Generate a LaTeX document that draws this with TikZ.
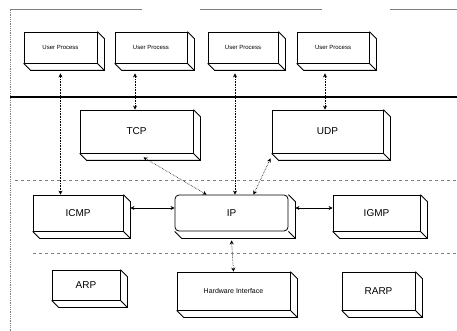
\documentclass[tikz,border=0pt]{standalone}
\usepackage{fontspec}
\setmainfont{Liberation Sans}
\usetikzlibrary{arrows.meta,calc}
\begin{document}
\begin{tikzpicture}[x=1pt,y=-1pt,
  box/.style={draw, line width=0.8pt, fill=white, inner sep=0pt, font=\fontsize{6}{7}\selectfont},
  big/.style={font=\fontsize{10}{12}\selectfont},
  dlink/.style={densely dotted, line width=0.6pt, {Stealth[length=4pt,width=4pt]}-{Stealth[length=4pt,width=4pt]}},
  slink/.style={line width=0.6pt, {Stealth[length=4pt,width=4pt]}-{Stealth[length=4pt,width=4pt]}},
  rule/.style={gray, line width=1pt},
  dashrule/.style={gray, dashed, line width=0.6pt}]
\useasboundingbox (0,0) rectangle (457,331);
% frame lines
\draw[rule] (10,10) -- (142,10) (200,10) -- (322,10) (390,10) -- (457,10);
\draw[gray, densely dotted, line width=0.8pt] (10,10) -- (10,331);
\draw[line width=1.2pt] (10,97) -- (457,97);
\draw[dashrule] (15,180) -- (457,180);
\draw[dashrule] (33,253) -- (457,253);
% boxes
\node[box, minimum width=73pt, minimum height=31pt] (up1) at (60.5,47.5) {User Process};
\node[box, minimum width=72pt, minimum height=31pt] (up2) at (151,47.5) {User Process};
\node[box, minimum width=70pt, minimum height=31pt] (up3) at (243,47.5) {User Process};
\node[box, minimum width=72pt, minimum height=31pt] (up4) at (333,47.5) {User Process};
\node[box, big, minimum width=113pt, minimum height=43pt] (tcp) at (136.5,131.5) {TCP};
\node[box, big, minimum width=111pt, minimum height=43pt] (udp) at (327.5,131.5) {UDP};
\node[box, big, minimum width=90pt, minimum height=36pt] (icmp) at (78,213) {ICMP};
\node[box, big, rounded corners=4pt, minimum width=113pt, minimum height=36pt] (ip) at (231.5,213) {IP};
\node[box, big, minimum width=87pt, minimum height=36pt] (igmp) at (376.5,213) {IGMP};
\node[box, big, minimum width=68pt, minimum height=30pt] (arp) at (86,285) {ARP};
\node[box, minimum width=113pt, minimum height=38pt, font=\fontsize{7}{8}\selectfont] (hw) at (233.5,291) {Hardware Interface};
\node[box, big, minimum width=73pt, minimum height=38pt] (rarp) at (378.5,291) {RARP};
% 3D depth
\foreach \n in {up1,up2,up3,up4,tcp,udp,icmp,ip,igmp,arp,hw,rarp}{
  \draw[line width=0.8pt] (\n.north east) -- ++(7,7) -- ($(\n.south east)+(7,7)$) -- ($(\n.south west)+(7,7)$) -- (\n.south west);
  \draw[line width=0.8pt] (\n.south east) -- ++(7,7);
}
% connectors
\draw[dlink] ([yshift=-10pt]up1.south) -- (up1.south |- icmp.north);
\draw[dlink] ([xshift=-16pt,yshift=-10pt]up2.south) -- ([xshift=-16pt]up2.south |- tcp.north);
\draw[dlink] ([xshift=-8pt,yshift=-10pt]up3.south) -- ([xshift=-8pt]up3.south |- ip.north);
\draw[dlink] ([xshift=-8pt,yshift=-10pt]up4.south) -- ([xshift=-8pt]up4.south |- udp.north);
\draw[dlink] ([xshift=7pt,yshift=-4pt]tcp.south) -- ([xshift=-25pt]ip.north);
\draw[dlink] ([xshift=-57pt,yshift=-5pt]udp.south) -- ([xshift=22pt]ip.north);
\draw[slink] ([xshift=7pt,yshift=5pt]icmp.east) -- ([yshift=5pt]ip.west);
\draw[slink] ([xshift=7pt,yshift=5pt]ip.east) -- ([yshift=5pt]igmp.west);
\draw[dlink] ([yshift=-9pt]ip.south) -- (hw.north);
\end{tikzpicture}
\end{document}
